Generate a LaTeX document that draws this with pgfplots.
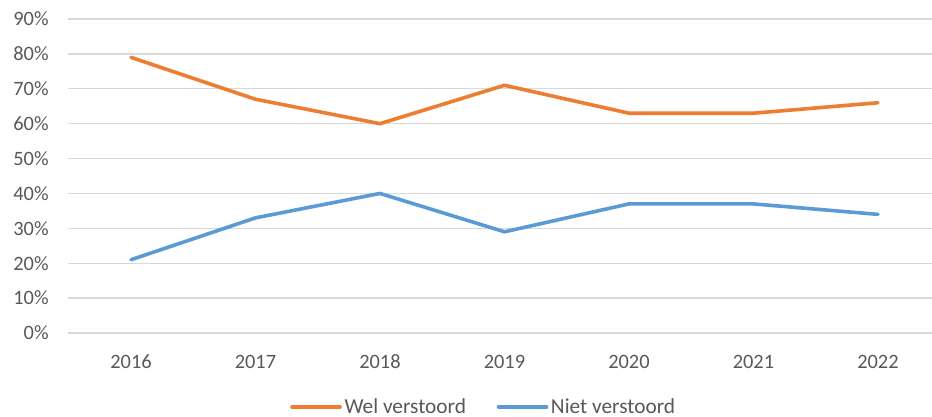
\documentclass[border=0pt]{standalone}
\usepackage{pgfplots}
\pgfplotsset{compat=1.18}
\usepackage{fontspec}
\setmainfont{Carlito}
\definecolor{wel}{HTML}{ED7D31}
\definecolor{niet}{HTML}{5B9BD5}
\definecolor{txt}{HTML}{595959}
\definecolor{grd}{HTML}{D9D9D9}
\begin{document}
\begin{tikzpicture}[x=0.75pt,y=0.75pt]
\useasboundingbox (-68,-84) rectangle (864,333);
\begin{axis}[
  at={(0,0)}, anchor=south west,
  scale only axis,
  width=648pt, height=235.5pt,
  xmin=-0.506, xmax=6.434,
  ymin=0, ymax=90,
  xtick={0,1,2,3,4,5,6},
  xticklabels={2016,2017,2018,2019,2020,2021,2022},
  ytick={0,10,20,30,40,50,60,70,80,90},
  yticklabel={\pgfmathprintnumber{\tick}\%},
  /pgf/number format/assume math mode=true,
  ymajorgrids,
  grid style={grd, line width=1pt},
  axis line style={draw=none},
  tick style={draw=none},
  ticklabel style={font=\fontsize{15.3}{18}\selectfont, text=txt},
  yticklabel style={xshift=-11pt},
  xticklabel style={yshift=-13pt},
  legend style={at={(0.4815,-0.2357)}, anchor=center, draw=none,
    font=\fontsize{16}{18}\selectfont, text=txt,
    /tikz/every even column/.append style={column sep=21pt}},
  legend columns=2,
  legend image code/.code={\draw[#1, line cap=round] (0pt,0pt) -- (36pt,0pt);},
]
\addplot[wel, line width=2.7pt, line join=round, line cap=round] coordinates {(0,79) (1,67) (2,60) (3,71) (4,63) (5,63) (6,66)};
\addlegendentry{Wel verstoord}
\addplot[niet, line width=2.7pt, line join=round, line cap=round] coordinates {(0,21) (1,33) (2,40) (3,29) (4,37) (5,37) (6,34)};
\addlegendentry{Niet verstoord}
\end{axis}
\end{tikzpicture}
\end{document}
